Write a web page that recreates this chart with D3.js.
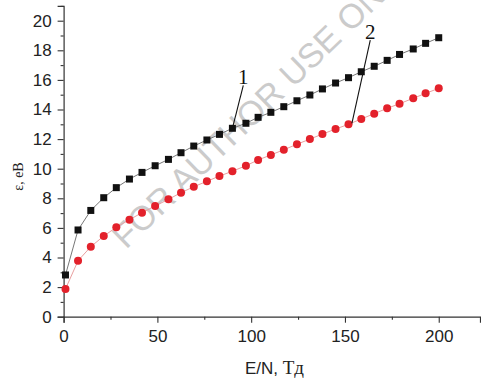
<!DOCTYPE html>
<html>
<head>
<meta charset="utf-8">
<script src="https://cdn.jsdelivr.net/npm/d3@7"></script>
<style>
  html, body { margin: 0; padding: 0; background: #fff; }
  svg { display: block; }
</style>
</head>
<body>
<svg id="chart" width="481" height="378"></svg>
<script>
// ---- data ----
const xValues = [1, 7.7, 14.5, 21.4, 28.1, 35.1, 41.8, 48.8, 55.9, 62.6, 69.4, 76.4, 83.1, 90.0, 97.2,
                 103.7, 110.5, 117.4, 124.4, 131.3, 138.0, 145.0, 151.9, 158.7, 165.6, 172.5, 179.1, 186.4, 193.0, 200];
const series1 = [2.82, 5.86, 7.18, 8.04, 8.72, 9.3, 9.75, 10.2, 10.63, 11.08, 11.53, 11.94, 12.32, 12.73, 13.07,
                 13.47, 13.81, 14.19, 14.59, 14.98, 15.39, 15.79, 16.15, 16.55, 16.92, 17.32, 17.72, 18.09, 18.47, 18.85];
const series2 = [1.87, 3.78, 4.73, 5.45, 6.04, 6.55, 7.03, 7.48, 7.93, 8.38, 8.78, 9.15, 9.5, 9.83, 10.2,
                 10.59, 10.93, 11.28, 11.65, 12.0, 12.34, 12.68, 13.0, 13.36, 13.72, 14.08, 14.39, 14.76, 15.09, 15.43];
const xTicks = [0, 50, 100, 150, 200];
const xMinorTicks = [25, 75, 125, 175];
const yTicks = [0, 2, 4, 6, 8, 10, 12, 14, 16, 18, 20];
const yMinorTicks = [1, 3, 5, 7, 9, 11, 13, 15, 17, 19, 21];
const curveLabels = ["1", "2"];
const labelAnchors = [[95.8, 15.7], [163.5, 18.75]];   // data coords of label / leader start
const labelTargets = [[90.0, 12.73], [153.7, 13.07]];  // data coords of leader end
const xTitle = ["E/N, ", "Тд"];
const yTitle = "ε, eB";
const watermark = "FOR AUTHOR USE ONLY";

// ---- layout ----
const svg = d3.select("#chart");
const x = d3.scaleLinear().domain([0, 222]).range([63.6, 480]);
const y = d3.scaleLinear().domain([0, 21]).range([316.7, 5.9]);

// watermark (beneath the data)
svg.append("text")
  .attr("transform", "translate(126,250) rotate(-44)")
  .attr("font-family", "Liberation Sans, Arial, sans-serif")
  .attr("font-size", 34)
  .attr("fill", "#cbcbcb")
  .text(watermark);

const axisColor = "#333";
const tickFont = "Liberation Sans, Arial, sans-serif";

// x axis
const gx = svg.append("g").attr("transform", `translate(0,${y(0)})`);
gx.call(d3.axisBottom(x).tickValues(xTicks).tickSize(6).tickPadding(7).tickFormat(d3.format("d")));
gx.append("g").call(d3.axisBottom(x).tickValues(xMinorTicks).tickSize(3).tickFormat(""))
  .select(".domain").remove();

// y axis
const gy = svg.append("g").attr("transform", `translate(${x(0)},0)`);
gy.call(d3.axisLeft(y).tickValues(yTicks).tickSize(6).tickPadding(6).tickFormat(d3.format("d")));
gy.append("g").call(d3.axisLeft(y).tickValues(yMinorTicks).tickSize(3).tickFormat(""))
  .select(".domain").remove();

svg.selectAll(".domain").attr("stroke", axisColor).attr("stroke-width", 1.2);
svg.selectAll(".tick line").attr("stroke", axisColor).attr("stroke-width", 1.1);
svg.selectAll(".tick text").attr("font-family", tickFont).attr("font-size", 17).attr("fill", "#222");

// axis titles
const xt = svg.append("text")
  .attr("x", 274.5).attr("y", 373.5)
  .attr("text-anchor", "middle")
  .attr("font-size", 17).attr("fill", "#222");
xt.append("tspan").attr("font-family", tickFont).text(xTitle[0]);
xt.append("tspan").attr("font-family", "Liberation Serif, Times New Roman, serif").attr("font-size", 19).text(xTitle[1]);

svg.append("text")
  .attr("transform", "translate(23,176.5) rotate(-90)")
  .attr("text-anchor", "middle")
  .attr("font-family", "Liberation Serif, Times New Roman, serif")
  .attr("font-size", 14).attr("fill", "#222")
  .text(yTitle);

// series
const pts1 = xValues.map((d, i) => [d, series1[i]]);
const pts2 = xValues.map((d, i) => [d, series2[i]]);
const line = d3.line().x(d => x(d[0])).y(d => y(d[1]));

svg.append("path").datum(pts1).attr("d", line)
  .attr("fill", "none").attr("stroke", "#777").attr("stroke-width", 1);
svg.append("path").datum(pts2).attr("d", line)
  .attr("fill", "none").attr("stroke", "#e9a0a0").attr("stroke-width", 1);

const sq = 7;
svg.append("g").selectAll("rect").data(pts1).join("rect")
  .attr("x", d => x(d[0]) - sq / 2).attr("y", d => y(d[1]) - sq / 2)
  .attr("width", sq).attr("height", sq).attr("fill", "#111");

svg.append("g").selectAll("circle").data(pts2).join("circle")
  .attr("cx", d => x(d[0])).attr("cy", d => y(d[1])).attr("r", 4)
  .attr("fill", "#e3212b");

// curve labels with leader lines
curveLabels.forEach((lab, i) => {
  svg.append("line")
    .attr("x1", x(labelAnchors[i][0])).attr("y1", y(labelAnchors[i][1]) + 1)
    .attr("x2", x(labelTargets[i][0])).attr("y2", y(labelTargets[i][1]))
    .attr("stroke", "#111").attr("stroke-width", 1.1);
  svg.append("text")
    .attr("x", x(labelAnchors[i][0])).attr("y", y(labelAnchors[i][1]))
    .attr("text-anchor", "middle")
    .attr("font-family", "Liberation Serif, Times New Roman, serif")
    .attr("font-size", 21).attr("fill", "#111")
    .text(lab);
});
</script>
</body>
</html>
